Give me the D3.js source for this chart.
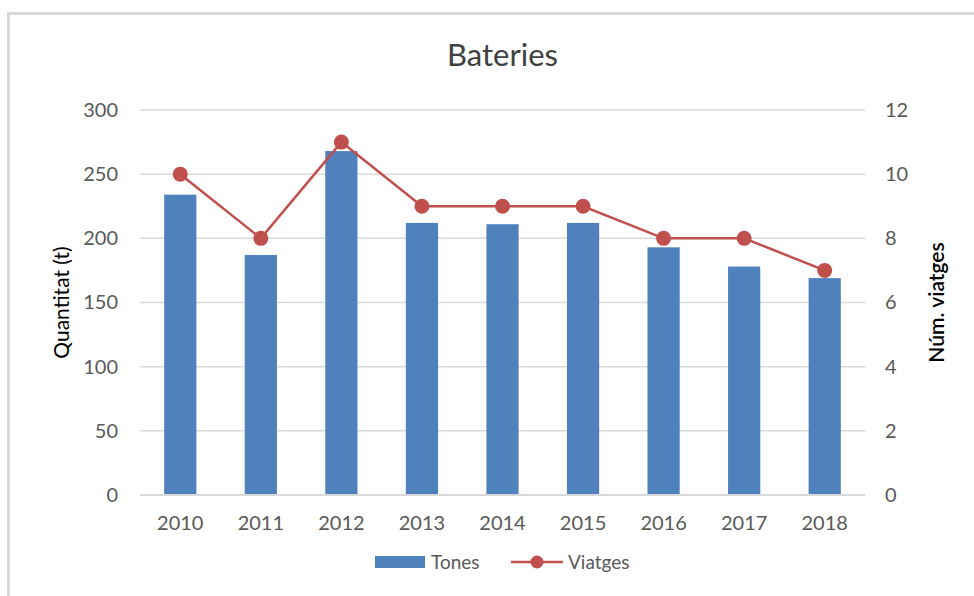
<!DOCTYPE html>
<html>
<head>
<meta charset="utf-8">
<script src="https://cdn.jsdelivr.net/npm/d3@7"></script>
<style>
  body { margin: 0; background: #fff; }
  svg { font-family: Lato, "Open Sans", sans-serif; }
</style>
</head>
<body>
<svg id="chart"></svg>
<script>
// Data
const years = ['2010', '2011', '2012', '2013', '2014', '2015', '2016', '2017', '2018'];
const tones = [234, 187, 268, 212, 211, 212, 193, 178, 169];
const viatges = [10, 8, 11, 9, 9, 9, 8, 8, 7];
const leftTicks = [0, 50, 100, 150, 200, 250, 300];
const rightTicks = [0, 2, 4, 6, 8, 10, 12];

function drawChart() {
    // Graph constants
    const width = 974;
    const height = 596;
    const margin = { top: 110, right: 109, bottom: 101, left: 140 };
    const blue = '#4F81BD';
    const red = '#C0504D';
    const textColor = '#595959';

    const xScale = d3.scaleBand()
        .domain(years)
        .range([margin.left, width - margin.right])
        .paddingInner(0.6)
        .paddingOuter(0.3);
    const yLeft = d3.scaleLinear()
        .domain([0, 300])
        .range([height - margin.bottom, margin.top]);
    const yRight = d3.scaleLinear()
        .domain([0, 12])
        .range([height - margin.bottom, margin.top]);

    const svg = d3.select('#chart')
        .attr('width', width)
        .attr('height', height);

    // Outer frame (only top and left edges visible)
    svg.append('rect')
        .attr('x', 8.5)
        .attr('y', 13.5)
        .attr('width', width + 20)
        .attr('height', height + 20)
        .attr('fill', 'none')
        .attr('stroke', '#d9d9d9')
        .attr('stroke-width', 3);

    // Title
    svg.append('text')
        .attr('x', (margin.left + width - margin.right) / 2)
        .attr('y', 66)
        .attr('text-anchor', 'middle')
        .attr('font-size', 31)
        .attr('fill', '#404040')
        .text('Bateries');

    // Gridlines
    svg.append('g')
        .selectAll('line')
        .data(leftTicks)
        .join('line')
        .attr('x1', margin.left)
        .attr('x2', width - margin.right)
        .attr('y1', d => yLeft(d))
        .attr('y2', d => yLeft(d))
        .attr('stroke', '#d9d9d9')
        .attr('stroke-width', 1.5);

    // Bars
    svg.append('g')
        .selectAll('rect')
        .data(years)
        .join('rect')
        .attr('x', d => xScale(d))
        .attr('y', (d, i) => yLeft(tones[i]))
        .attr('width', xScale.bandwidth())
        .attr('height', (d, i) => yLeft(0) - yLeft(tones[i]))
        .attr('fill', blue);

    // Axes
    const xAxis = svg.append('g')
        .attr('transform', `translate(0,${height - margin.bottom})`)
        .call(d3.axisBottom(xScale).tickSize(0).tickPadding(21));
    xAxis.select('.domain').remove();
    xAxis.selectAll('text')
        .attr('font-size', 20)
        .attr('fill', textColor)
        .attr('font-family', 'Lato, sans-serif');

    const leftAxis = svg.append('g')
        .attr('transform', `translate(${margin.left},0)`)
        .call(d3.axisLeft(yLeft).tickValues(leftTicks).tickSize(0).tickPadding(22));
    leftAxis.select('.domain').remove();
    leftAxis.selectAll('text')
        .attr('font-size', 20)
        .attr('fill', textColor)
        .attr('font-family', 'Lato, sans-serif');

    const rightAxis = svg.append('g')
        .attr('transform', `translate(${width - margin.right},0)`)
        .call(d3.axisRight(yRight).tickValues(rightTicks).tickSize(0).tickPadding(20));
    rightAxis.select('.domain').remove();
    rightAxis.selectAll('text')
        .attr('font-size', 20)
        .attr('fill', textColor)
        .attr('font-family', 'Lato, sans-serif');

    // Baseline
    svg.append('line')
        .attr('x1', margin.left)
        .attr('x2', width - margin.right)
        .attr('y1', yLeft(0))
        .attr('y2', yLeft(0))
        .attr('stroke', '#d9d9d9')
        .attr('stroke-width', 2);

    // Axis titles
    svg.append('text')
        .attr('transform', `translate(69,${(margin.top + height - margin.bottom) / 2}) rotate(-90)`)
        .attr('text-anchor', 'middle')
        .attr('font-size', 21)
        .attr('fill', '#000')
        .text('Quantitat (t)');
    svg.append('text')
        .attr('transform', `translate(944,${(margin.top + height - margin.bottom) / 2}) rotate(-90)`)
        .attr('text-anchor', 'middle')
        .attr('font-size', 21)
        .attr('font-weight', 600)
        .attr('fill', '#000')
        .text('Núm. viatges');

    // Line + markers
    const cx = d => xScale(d) + xScale.bandwidth() / 2;
    const line = d3.line()
        .x(d => cx(d))
        .y((d, i) => yRight(viatges[i]));
    svg.append('path')
        .datum(years)
        .attr('d', line)
        .attr('fill', 'none')
        .attr('stroke', red)
        .attr('stroke-width', 2.5);
    svg.append('g')
        .selectAll('circle')
        .data(years)
        .join('circle')
        .attr('cx', d => cx(d))
        .attr('cy', (d, i) => yRight(viatges[i]))
        .attr('r', 7.5)
        .attr('fill', red);

    // Legend
    const legend = svg.append('g').attr('transform', 'translate(0,562)');
    legend.append('rect')
        .attr('x', 375).attr('y', -6)
        .attr('width', 50).attr('height', 12)
        .attr('fill', blue);
    legend.append('text')
        .attr('x', 431).attr('y', 7)
        .attr('font-size', 19)
        .attr('fill', textColor)
        .text('Tones');
    legend.append('line')
        .attr('x1', 511).attr('x2', 563)
        .attr('stroke', red).attr('stroke-width', 2.5);
    legend.append('circle')
        .attr('cx', 537).attr('r', 6.5)
        .attr('fill', red);
    legend.append('text')
        .attr('x', 568).attr('y', 7)
        .attr('font-size', 19)
        .attr('fill', textColor)
        .text('Viatges');
}

drawChart();
</script>
</body>
</html>
